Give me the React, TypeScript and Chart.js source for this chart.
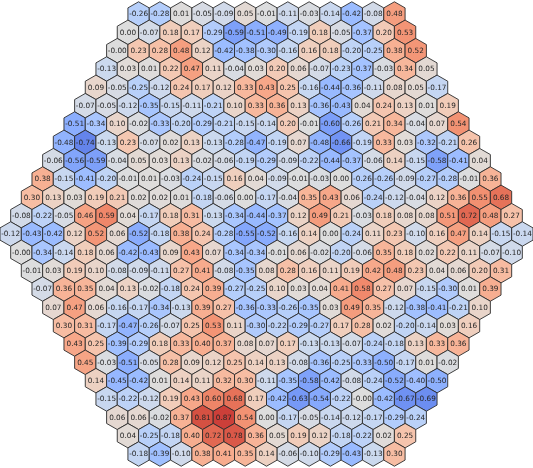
import { useEffect, useRef } from "react";
import Chart, { type Plugin } from "chart.js/auto";

// --- Cell values, one array per row of the hexagonal grid (top to bottom) ---
const row01 = [-0.26, -0.28, 0.01, -0.05, -0.09, 0.05, -0.01, -0.11, -0.03, -0.14, -0.42, -0.08, 0.48];
const row02 = [0.0, -0.07, 0.18, 0.17, -0.29, -0.59, -0.51, -0.49, -0.19, 0.18, -0.05, -0.37, 0.2, 0.53];
const row03 = [-0.001, 0.23, 0.28, 0.48, 0.12, -0.42, -0.38, -0.3, -0.16, 0.16, 0.18, -0.2, -0.25, 0.38, 0.52];
const row04 = [-0.13, 0.03, 0.01, 0.22, 0.47, 0.11, -0.04, 0.03, 0.2, 0.06, -0.07, -0.23, -0.37, -0.03, 0.34, 0.05];
const row05 = [0.09, -0.05, -0.25, -0.12, 0.24, 0.17, 0.12, 0.33, 0.43, 0.25, -0.16, -0.44, -0.36, -0.11, 0.08, 0.05, -0.17];
const row06 = [-0.07, -0.05, -0.12, -0.35, -0.15, -0.11, -0.21, 0.1, 0.33, 0.36, 0.13, -0.36, -0.43, 0.04, 0.24, 0.13, 0.01, 0.19];
const row07 = [-0.51, -0.34, 0.1, -0.02, -0.33, -0.2, -0.29, -0.21, -0.15, -0.14, 0.2, -0.01, -0.6, -0.26, 0.21, 0.34, -0.04, 0.07, 0.54];
const row08 = [-0.48, -0.74, -0.13, 0.23, -0.07, 0.02, 0.13, -0.13, -0.28, -0.47, -0.19, 0.07, -0.48, -0.66, -0.19, 0.33, 0.03, -0.32, -0.21, 0.26];
const row09 = [-0.06, -0.56, -0.59, -0.04, 0.05, 0.03, 0.13, -0.02, -0.06, -0.19, -0.29, -0.09, -0.22, -0.44, -0.37, -0.06, 0.14, -0.15, -0.58, -0.41, 0.04];
const row10 = [0.38, -0.15, -0.41, -0.2, -0.01, 0.01, -0.03, -0.24, -0.15, 0.16, 0.04, -0.09, -0.01, -0.03, 0.0, -0.26, -0.26, -0.09, -0.27, -0.28, -0.01, 0.36];
const row11 = [0.3, 0.13, 0.03, 0.19, 0.21, 0.02, 0.02, 0.01, -0.18, -0.06, 0.0, -0.17, -0.04, 0.35, 0.43, 0.06, -0.24, -0.12, -0.04, 0.12, 0.36, 0.55, 0.68];
const row12 = [-0.08, -0.22, -0.05, 0.46, 0.59, 0.04, -0.17, 0.18, 0.31, -0.13, -0.34, -0.44, -0.37, 0.12, 0.49, 0.21, -0.03, 0.18, 0.08, 0.08, 0.51, 0.72, 0.48, 0.27];
const row13 = [-0.12, -0.43, -0.42, 0.12, 0.52, 0.06, -0.52, -0.18, 0.38, 0.24, -0.28, -0.55, -0.52, -0.16, 0.14, 0.0, -0.24, 0.11, 0.23, -0.1, 0.16, 0.47, 0.14, -0.15, -0.14];
const row14 = [-0.001, -0.34, -0.14, 0.18, 0.06, -0.42, -0.43, 0.09, 0.43, 0.07, -0.34, -0.34, -0.01, 0.06, -0.02, -0.2, -0.06, 0.35, 0.18, 0.02, 0.22, 0.11, -0.07, -0.1];
const row15 = [-0.01, 0.03, 0.19, 0.1, -0.08, -0.09, -0.11, 0.27, 0.41, -0.08, -0.35, 0.08, 0.28, 0.16, 0.11, 0.19, 0.42, 0.48, 0.23, 0.04, 0.06, 0.2, 0.31];
const row16 = [-0.07, 0.36, 0.35, 0.04, 0.13, -0.02, -0.18, 0.24, 0.39, -0.27, -0.25, 0.1, 0.03, 0.04, 0.41, 0.58, 0.27, 0.07, -0.15, -0.3, 0.01, 0.39];
const row17 = [0.07, 0.47, 0.06, -0.16, -0.17, -0.34, -0.13, 0.39, 0.27, -0.36, -0.33, -0.26, -0.35, 0.03, 0.49, 0.35, -0.12, -0.38, -0.41, -0.21, 0.1];
const row18 = [0.3, 0.31, -0.17, -0.47, -0.26, -0.07, 0.25, 0.53, 0.11, -0.3, -0.22, -0.29, -0.27, 0.17, 0.28, 0.02, -0.2, -0.14, 0.03, 0.16];
const row19 = [0.43, 0.25, -0.39, -0.29, 0.18, 0.33, 0.4, 0.37, 0.08, 0.07, 0.17, -0.13, -0.13, -0.07, -0.24, -0.18, 0.13, 0.33, 0.36];
const row20 = [0.45, -0.03, -0.51, -0.05, 0.28, 0.09, 0.12, 0.25, 0.14, 0.13, -0.08, -0.36, -0.25, -0.33, -0.5, -0.17, 0.01, -0.02];
const row21 = [0.14, -0.45, -0.42, 0.01, 0.14, 0.11, 0.32, 0.3, -0.11, -0.35, -0.58, -0.42, -0.08, -0.24, -0.52, -0.4, -0.5];
const row22 = [-0.15, -0.22, -0.12, 0.19, 0.43, 0.6, 0.68, 0.17, -0.42, -0.63, -0.54, -0.22, -0.001, -0.42, -0.67, -0.69];
const row23 = [0.06, 0.06, -0.02, 0.37, 0.81, 0.87, 0.54, 0.0, -0.17, -0.05, -0.14, -0.12, -0.17, -0.29, -0.24];
const row24 = [0.04, -0.25, -0.18, 0.4, 0.72, 0.78, 0.36, 0.05, 0.19, 0.12, -0.18, -0.22, 0.02, 0.25];
const row25 = [-0.18, -0.39, -0.1, 0.38, 0.41, 0.35, 0.14, -0.06, -0.1, -0.29, -0.43, -0.13, 0.3];

const rows = [
  row01, row02, row03, row04, row05, row06, row07, row08, row09, row10, row11, row12, row13,
  row14, row15, row16, row17, row18, row19, row20, row21, row22, row23, row24, row25,
];

const VMIN = -1;
const VMAX = 1;

// --- coolwarm colormap (diverging, blue -> gray -> red) ---
const coolwarm: [number, number, number][] = [
  [59, 76, 192], [68, 90, 204], [77, 104, 215], [87, 117, 225], [98, 130, 234],
  [108, 142, 241], [119, 154, 247], [130, 165, 251], [141, 176, 254], [152, 185, 255],
  [163, 194, 255], [174, 201, 253], [184, 208, 249], [194, 213, 244], [204, 217, 238],
  [213, 219, 230], [221, 221, 221], [229, 216, 209], [236, 211, 197], [241, 204, 185],
  [245, 196, 173], [247, 187, 160], [247, 177, 148], [247, 166, 135], [244, 154, 123],
  [241, 141, 111], [236, 127, 99], [229, 112, 88], [222, 96, 77], [213, 80, 66],
  [203, 62, 56], [192, 40, 47], [180, 4, 38],
];

const colorFor = (v: number) => {
  const t = Math.min(1, Math.max(0, (v - VMIN) / (VMAX - VMIN)));
  const pos = t * (coolwarm.length - 1);
  const i = Math.min(coolwarm.length - 2, Math.floor(pos));
  const f = pos - i;
  const a = coolwarm[i];
  const b = coolwarm[i + 1];
  const c = a.map((ch, k) => Math.round(ch + (b[k] - ch) * f));
  return `rgb(${c[0]},${c[1]},${c[2]})`;
};

const fmt = (v: number) => (v < 0 ? "-" : "") + Math.abs(v).toFixed(2);

type Cell = { x: number; y: number; v: number };

// --- Draws a hexagon + label at every data point, sized from the scales ---
const hexPlugin: Plugin<"scatter"> = {
  id: "hexCells",
  afterDatasetsDraw(chart) {
    const { ctx } = chart;
    const xs = chart.scales.x;
    const ys = chart.scales.y;
    const halfW = Math.abs(xs.getPixelForValue(0.5) - xs.getPixelForValue(0));
    const rowH = Math.abs(ys.getPixelForValue(1) - ys.getPixelForValue(0));
    const r = (rowH * 2) / 3;
    const cells = chart.data.datasets[0].data as unknown as Cell[];

    ctx.save();
    ctx.lineWidth = 0.9;
    ctx.strokeStyle = "#2b2b2b";
    cells.forEach(c => {
      const cx = xs.getPixelForValue(c.x);
      const cy = ys.getPixelForValue(c.y);
      ctx.beginPath();
      ctx.moveTo(cx, cy - r);
      ctx.lineTo(cx + halfW, cy - r / 2);
      ctx.lineTo(cx + halfW, cy + r / 2);
      ctx.lineTo(cx, cy + r);
      ctx.lineTo(cx - halfW, cy + r / 2);
      ctx.lineTo(cx - halfW, cy - r / 2);
      ctx.closePath();
      ctx.fillStyle = colorFor(c.v);
      ctx.fill();
      ctx.stroke();
    });

    ctx.fillStyle = "#262626";
    ctx.font = '7.3px "DejaVu Sans", sans-serif';
    ctx.textAlign = "center";
    ctx.textBaseline = "middle";
    cells.forEach(c => {
      ctx.fillText(fmt(c.v), xs.getPixelForValue(c.x), ys.getPixelForValue(c.y) + 0.5);
    });
    ctx.restore();
  },
};

const App: React.FC = () => {
  const chartRef = useRef<HTMLCanvasElement | null>(null);

  useEffect(() => {
    if (!chartRef.current) return;

    // row index -> y, column offset from the centre -> x
    const cells: Cell[] = [];
    rows.forEach((row, r) => {
      row.forEach((v, i) => {
        cells.push({ x: i - (row.length - 1) / 2, y: r, v });
      });
    });

    const chart = new Chart(chartRef.current, {
      type: "scatter",
      data: {
        datasets: [
          {
            data: cells as any,
            pointRadius: 0,
            pointHoverRadius: 0,
          },
        ],
      },
      options: {
        animation: false,
        responsive: true,
        maintainAspectRatio: false,
        layout: { padding: 0 },
        events: [],
        scales: {
          x: { type: "linear", min: -12.5, max: 12.5, display: false },
          y: { type: "linear", min: -0.764, max: 24.764, reverse: true, display: false },
        },
        plugins: {
          legend: { display: false },
          tooltip: { enabled: false },
        },
      },
      plugins: [hexPlugin],
    });

    return () => {
      chart.destroy();
    };
  }, []);

  return (
    <div style={{ position: "fixed", left: 0, top: 0, width: 533, height: 468, background: "#fff" }}>
      <canvas ref={chartRef} />
    </div>
  );
};

export default App;
